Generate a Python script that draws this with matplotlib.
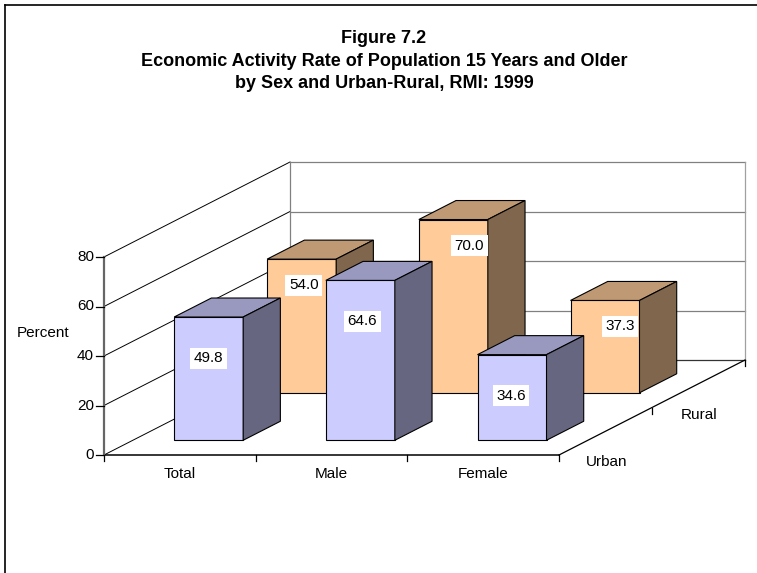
import matplotlib
matplotlib.use("Agg")
import matplotlib.pyplot as plt
from matplotlib.patches import Polygon

plt.rcParams["font.family"] = ["Liberation Sans", "DejaVu Sans"]

# ── Data ─────────────────────────────────────────────────────────────────────
categories = ["Total", "Male", "Female"]
series_names = ["Urban", "Rural"]
urban_values = [49.8, 64.6, 34.6]
rural_values = [54.0, 70.0, 37.3]
y_ticks = [0, 20, 40, 60, 80]
title_lines = [
    "Figure 7.2",
    "Economic Activity Rate of Population 15 Years and Older",
    "by Sex and Urban-Rural, RMI: 1999",
]

# ── Layout / style ───────────────────────────────────────────────────────────
W, H = 757, 573
X0_PX, Y0_PX = 104, 455          # front-left floor corner, pixels from top-left
CAT_PX, VAL_PX = 151.67, 2.475   # pixels per category, per percent
DEPTH_X, DEPTH_Y = 186 / CAT_PX, 95 / VAL_PX  # full depth offset in data units
BAR_W = 69 / CAT_PX
BAR_HALF_DEPTH = 0.1
ROW_CENTER = [0.255, 0.755]
FACE = {
    "Urban": ("#CCCCFF", "#9999BF", "#666680"),
    "Rural": ("#FFCC99", "#BF9973", "#80664D"),
}
LABEL_DROP_PX = {"Urban": 41, "Rural": 26}
LABEL_NUDGE_PX = {"Urban": [0, 2, -1], "Rural": [2, 16, 15]}
FS = 11


def proj(x, v, d):
    """Oblique projection of (category x, value, depth) onto the flat axes."""
    return (x + d * DEPTH_X, v + d * DEPTH_Y)


fig = plt.figure(figsize=(W / 100, H / 100), dpi=100)
ax = fig.add_axes([0, 0, 1, 1])
ax.set_xlim(-X0_PX / CAT_PX, (W - X0_PX) / CAT_PX)
ax.set_ylim(-(H - Y0_PX) / VAL_PX, Y0_PX / VAL_PX)
ax.axis("off")

n = len(categories)
vmax = y_ticks[-1]

# walls: left-wall diagonals and back-wall gridlines
for v in y_ticks:
    ax.plot(*zip(proj(0, v, 0), proj(0, v, 1)), color="black", lw=0.7, zorder=1)
    ax.plot(*zip(proj(0, v, 1), proj(n, v, 1)),
            color="#333333" if v == 0 else "#808080", lw=0.9, zorder=1)
ax.plot(*zip(proj(0, 0, 1), proj(0, vmax, 1)), color="#808080", lw=0.9, zorder=1)
ax.plot(*zip(proj(n, 0, 1), proj(n, vmax, 1)), color="#A0A0A0", lw=0.9, zorder=1)

# floor edges
ax.plot(*zip(proj(0, 0, 0), proj(n, 0, 0)), color="black", lw=1.1, zorder=5)
ax.plot(*zip(proj(n, 0, 0), proj(n, 0, 1)), color="black", lw=0.9, zorder=5)
tick_v = 6 / VAL_PX
for i in range(n + 1):
    x, y = proj(i, 0, 0)
    ax.plot([x, x], [y, y - tick_v], color="black", lw=0.9, zorder=5)
for d in [0.5, 1.0]:
    x, y = proj(n, 0, d)
    ax.plot([x, x], [y, y - tick_v], color="black", lw=0.9, zorder=5)

# value axis
ax.plot(*zip(proj(0, 0, 0), proj(0, vmax, 0)), color="#666666", lw=1.6, zorder=5)
for v in y_ticks:
    ax.plot([-8 / CAT_PX, 0], [v, v], color="black", lw=0.9, zorder=5)
    ax.text(-10 / CAT_PX, v, f"{v}", ha="right", va="center", fontsize=FS)

# bars: back row first so the front row covers it
rows = {"Urban": urban_values, "Rural": rural_values}
for k in [1, 0]:
    name = series_names[k]
    front_c, top_c, side_c = FACE[name]
    d0 = ROW_CENTER[k] - BAR_HALF_DEPTH
    d1 = ROW_CENTER[k] + BAR_HALF_DEPTH
    z = 2 if k == 1 else 3
    for i, v in enumerate(rows[name]):
        x0 = i + 0.5 - BAR_W / 2
        x1 = i + 0.5 + BAR_W / 2
        faces = [
            ([proj(x0, 0, d0), proj(x1, 0, d0), proj(x1, v, d0), proj(x0, v, d0)], front_c),
            ([proj(x0, v, d0), proj(x1, v, d0), proj(x1, v, d1), proj(x0, v, d1)], top_c),
            ([proj(x1, 0, d0), proj(x1, 0, d1), proj(x1, v, d1), proj(x1, v, d0)], side_c),
        ]
        for pts, col in faces:
            ax.add_patch(Polygon(pts, closed=True, facecolor=col,
                                 edgecolor="black", lw=0.8, zorder=z))
        lx, ly = proj(i + 0.5, v, d0)
        ax.text(lx + LABEL_NUDGE_PX[name][i] / CAT_PX,
                ly - LABEL_DROP_PX[name] / VAL_PX,
                f"{v:.1f}", ha="center", va="center", fontsize=FS, zorder=z + 0.5,
                bbox=dict(facecolor="white", edgecolor="none", pad=2.5))

# category and series labels
for i, cat in enumerate(categories):
    ax.text(i + 0.5, -19 / VAL_PX, cat, ha="center", va="center", fontsize=FS)
for k, name in enumerate(series_names):
    x, y = proj(n, 0, ROW_CENTER[k])
    ax.text(x, y - 31.5 / VAL_PX, name, ha="center", va="center", fontsize=FS)

fig.text(43 / W, 1 - 333 / H, "Percent", ha="center", va="center", fontsize=FS)
fig.text(384 / W, 1 - 61 / H, "\n".join(title_lines), ha="center", va="center",
         fontsize=13, fontweight="bold", linespacing=1.4)

# chart-area border (left and top edges visible)
fig.add_artist(plt.Line2D([5 / W, 5 / W], [0, 1 - 5 / H], color="black", lw=1.2))
fig.add_artist(plt.Line2D([5 / W, 1], [1 - 5 / H, 1 - 5 / H], color="black", lw=1.2))

fig.savefig("out.png", dpi=100)
